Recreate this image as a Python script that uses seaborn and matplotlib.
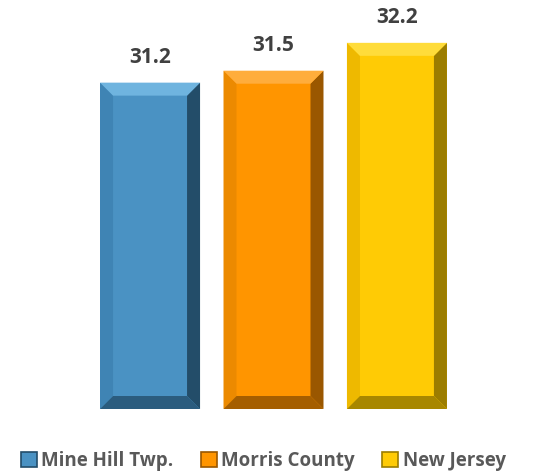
import matplotlib
matplotlib.use("Agg")
import matplotlib.pyplot as plt
import seaborn as sns
import pandas as pd
from matplotlib.patches import Polygon, Patch

categories = ["Mine Hill Twp.", "Morris County", "New Jersey"]
values = [31.2, 31.5, 32.2]
labels = ["31.2", "31.5", "32.2"]

face = ["#4a92c3", "#ff9500", "#ffcb05"]
top_c = ["#6fb4df", "#ffad3c", "#ffdc3a"]
left_c = ["#3f84b4", "#ec8a00", "#eeb900"]
right_c = ["#234d69", "#9a5700", "#9c7d00"]
bot_c = ["#2b5c7e", "#a55e00", "#a88700"]

sns.set_theme(style="white")
plt.rcParams['font.family'] = ['Open Sans', 'DejaVu Sans']

df = pd.DataFrame({"cat": categories, "val": values})

fig = plt.figure(figsize=(5.54, 4.74), dpi=100)
ax = fig.add_axes([76/554, (474-409)/474, 395/554, 398/474])
sns.barplot(data=df, x="cat", y="val", hue="cat", palette=face, width=0.81,
            ax=ax, legend=False, saturation=1, linewidth=0)
ax.set_ylim(23, 33)
ax.set_xlim(-0.6, 2.6)
ax.axis("off")

px_x = (ax.get_xlim()[1] - ax.get_xlim()[0]) / 395
px_y = (ax.get_ylim()[1] - ax.get_ylim()[0]) / 398
bx, by = 13 * px_x, 13 * px_y

bars = sorted(ax.patches, key=lambda p: p.get_x())
for i, p in enumerate(bars):
    x0, w = p.get_x(), p.get_width()
    y0 = ax.get_ylim()[0]
    y1 = p.get_y() + p.get_height()
    x1 = x0 + w
    polys = [
        ([(x0, y0), (x0, y1), (x0 + bx, y1 - by), (x0 + bx, y0 + by)], left_c[i]),
        ([(x1, y0), (x1, y1), (x1 - bx, y1 - by), (x1 - bx, y0 + by)], right_c[i]),
        ([(x0, y1), (x1, y1), (x1 - bx, y1 - by), (x0 + bx, y1 - by)], top_c[i]),
        ([(x0, y0), (x1, y0), (x1 - bx, y0 + by), (x0 + bx, y0 + by)], bot_c[i]),
    ]
    for pts, c in polys:
        ax.add_patch(Polygon(pts, closed=True, facecolor=c, edgecolor="none", zorder=3))
    ax.text(x0 + w / 2, y1 + 25 * px_y, labels[i], ha="center", va="center",
            fontsize=15, fontweight="bold", color="#404040")

handles = [Patch(facecolor=face[i], edgecolor=right_c[i], linewidth=1.2) for i in range(3)]
fig.legend(handles, categories, loc="center", bbox_to_anchor=(0.475, (474-461)/474),
           ncol=3, frameon=False, handlelength=0.85, handleheight=0.85,
           handletextpad=0.25, columnspacing=1.45,
           prop={"size": 13.5, "weight": "bold"}, labelcolor="#595959")

fig.savefig("out.png", dpi=100)
